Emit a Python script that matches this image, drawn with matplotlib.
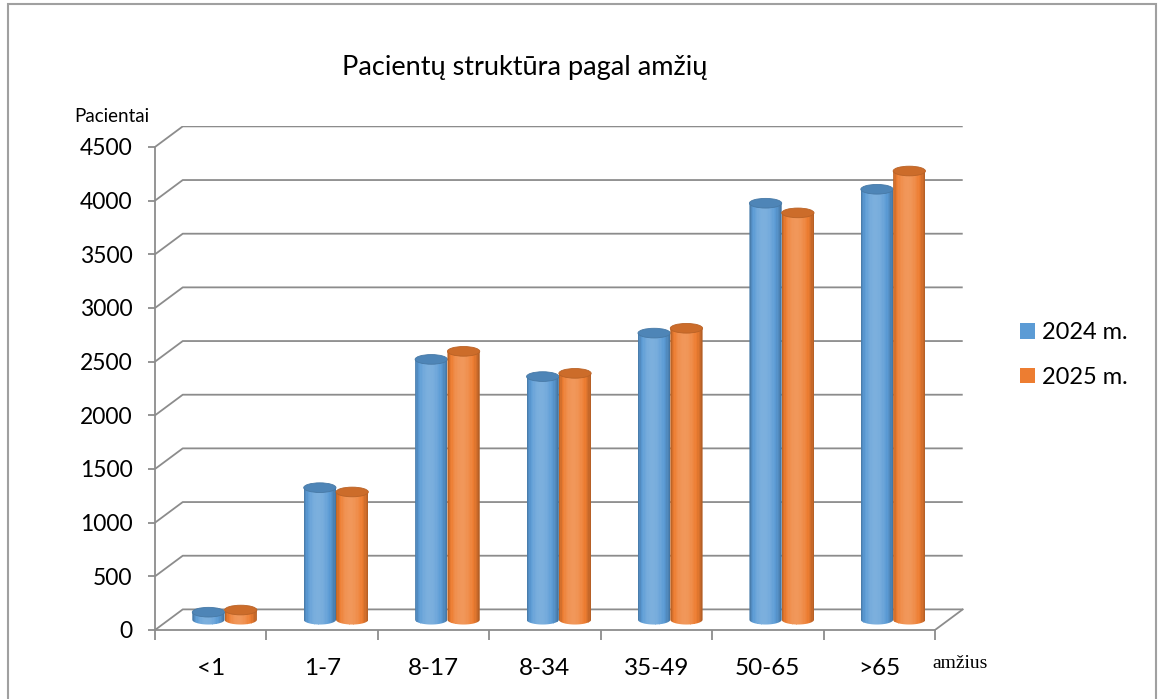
import numpy as np
import matplotlib.pyplot as plt
from matplotlib.patches import Ellipse, PathPatch, Rectangle, Patch
from matplotlib.path import Path
from matplotlib.colors import to_rgb

categories = ['<1', '1-7', '8-17', '8-34', '35-49', '50-65', '>65']
patients_2024 = [70, 1230, 2425, 2265, 2670, 3880, 4010]
patients_2025 = [90, 1190, 2500, 2295, 2715, 3790, 4180]
series_labels = ['2024 m.', '2025 m.']
series_colors = ['#5b9bd5', '#ed7d31']
y_ticks = list(range(0, 5000, 500))

GRAY = '#8c8c8c'
DX, DY = 0.249, 192    # depth of the "3d" floor, in data units
W = 0.29               # cylinder width
EH = 90                # ellipse height (data units)


def shade(c, f):
    c = np.array(to_rgb(c))
    if f < 1:
        return tuple(c * f)
    return tuple(c + (1 - c) * (f - 1))


def cylinder(ax, xc, base, h, color, z):
    n = 24
    edges = np.linspace(xc - W / 2, xc + W / 2, n + 1)
    mids = (edges[:-1] + edges[1:]) / 2
    t = (mids - edges[0]) / W
    f = 0.72 + 0.48 * np.sin(np.pi * t ** 0.85) ** 0.8
    cols = [shade(color, k) for k in f]
    bars = ax.bar(mids, h + EH / 2, width=W / n * 1.05, bottom=base - EH / 2,
                  color=cols, linewidth=0, zorder=z)
    # body outline: rectangle with rounded (half ellipse) bottom
    th = np.linspace(np.pi, 2 * np.pi, 40)
    lower = np.column_stack([xc + W / 2 * np.cos(th), base + EH / 2 * np.sin(th)])
    verts = np.vstack([[xc - W / 2, base + h], lower, [xc + W / 2, base + h],
                       [xc - W / 2, base + h]])
    codes = [Path.MOVETO] + [Path.LINETO] * (len(verts) - 2) + [Path.CLOSEPOLY]
    clip = PathPatch(Path(verts, codes), transform=ax.transData,
                     facecolor='none', edgecolor='none')
    for b in bars:
        b.set_clip_path(clip)
    top = Ellipse((xc, base + h), W, EH, facecolor=shade(color, 0.86),
                  edgecolor=shade(color, 0.78), lw=0.6, zorder=z + 0.1)
    ax.add_patch(top)


plt.rcParams['font.family'] = ['Lato', 'DejaVu Sans']
fig = plt.figure(figsize=(11.6, 6.99), dpi=100)
ax = fig.add_axes([155 / 1160, 69 / 699, (968.4 - 155) / 1160, (630 - 125.5) / 699])
ax.set_xlim(0, 7.3)
ax.set_ylim(0, 4700)

# back wall grid and floor
for v in y_ticks:
    ax.plot([0, DX, 7 + DX], [v, v + DY, v + DY], color=GRAY, lw=1.3, zorder=1,
            solid_capstyle='butt')
ax.plot([7, 7 + DX], [0, DY], color=GRAY, lw=1.3, zorder=1)

# cylinders
x = np.arange(len(categories)) + 0.5 + DX / 2
for i in range(len(categories)):
    cylinder(ax, x[i] - W / 2, DY / 2, patients_2024[i], series_colors[0], 3 + i)
    cylinder(ax, x[i] + W / 2, DY / 2, patients_2025[i], series_colors[1], 3.5 + i)

for s in ['top', 'right']:
    ax.spines[s].set_visible(False)
ax.spines['left'].set_bounds(0, 4500)
ax.spines['bottom'].set_bounds(0, 7)
for s in ['left', 'bottom']:
    ax.spines[s].set_color(GRAY)
    ax.spines[s].set_linewidth(1.3)

ax.set_yticks(y_ticks)
ax.tick_params(axis='y', length=5, width=1.3, color=GRAY, pad=11, labelsize=16.5)
ax.set_xticks(np.arange(len(categories)) + 0.5, categories)
ax.tick_params(axis='x', which='major', length=0, pad=20, labelsize=17.5)
ax.set_xticks(np.arange(len(categories) + 1), minor=True)
ax.tick_params(axis='x', which='minor', length=7, width=1.3, color=GRAY)

fig.text(525 / 1160, 1 - 67 / 699, 'Pacientų struktūra pagal amžių', fontsize=19.5,
         ha='center', va='center')
fig.text(112 / 1160, 1 - 116 / 699, 'Pacientai', fontsize=13.5, ha='center', va='center')
fig.text(960 / 1160, 1 - 664 / 699, 'amžius', fontsize=14, ha='center', va='center',
         family=['Liberation Serif', 'DejaVu Serif'])

handles = [Patch(facecolor=c) for c in series_colors]
fig.legend(handles, series_labels, loc='center left',
           bbox_to_anchor=(1020 / 1160, 1 - 355 / 699), frameon=False, fontsize=17,
           handlelength=0.65, handleheight=0.65, handletextpad=0.3,
           labelspacing=1.0, borderpad=0, borderaxespad=0)

fig.patches.append(Rectangle((8 / 1160, -0.02), (1156 - 8) / 1160, 1 - 4 / 699 + 0.02,
                             transform=fig.transFigure, fill=False,
                             edgecolor='#a0a0a0', lw=1.5))

fig.savefig('out.png', dpi=100)
